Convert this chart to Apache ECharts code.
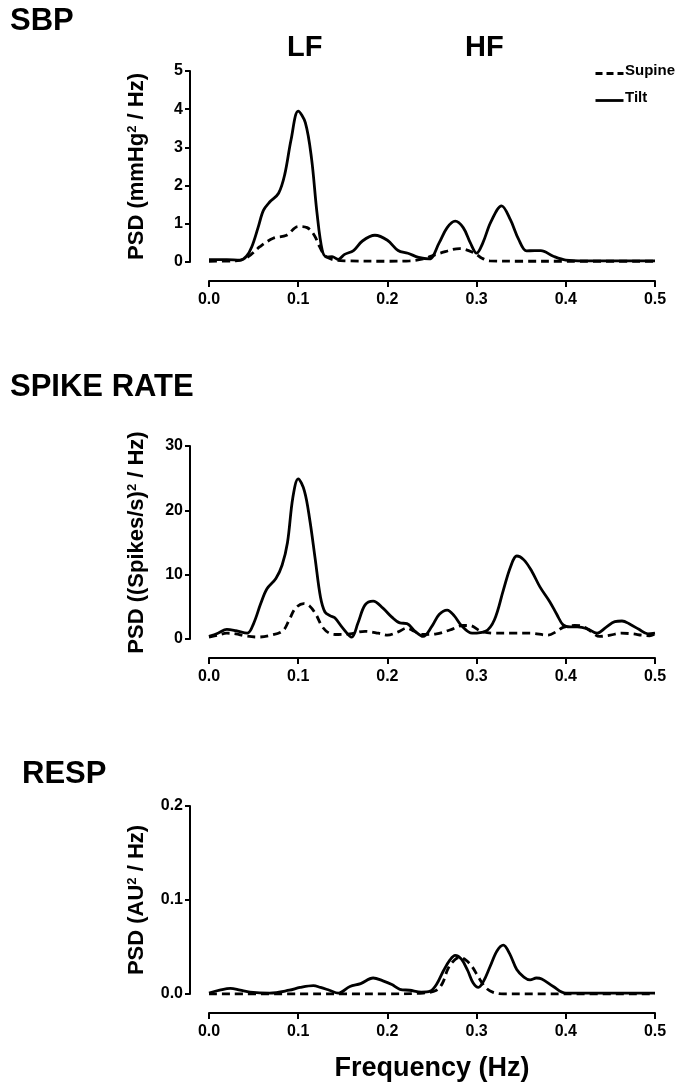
<!DOCTYPE html>
<html>
<head>
<meta charset="utf-8">
<title>Power spectral density: SBP, spike rate, respiration</title>
<script src="https://cdn.jsdelivr.net/npm/echarts@6/dist/echarts.min.js"></script>
<style>
  html, body { margin: 0; padding: 0; background: #fff; }
  #chart { width: 687px; height: 1086px; }
</style>
</head>
<body>
<div id="chart"></div>
<script>
// Frequency axis ticks (Hz)
const freqTicks = [0.0, 0.1, 0.2, 0.3, 0.4, 0.5];

// Series names
const seriesNames = ['Supine', 'Tilt'];

// Systolic blood pressure PSD, [frequency (Hz), mmHg^2/Hz]
const sbpSupine = [
  [0, 0.02], [0.03, 0.03], [0.043, 0.12], [0.057, 0.4], [0.072, 0.62], [0.087, 0.7],
  [0.1, 0.93], [0.11, 0.9], [0.118, 0.7], [0.124, 0.4], [0.13, 0.17], [0.139, 0.06],
  [0.155, 0.03], [0.2, 0.02], [0.225, 0.03], [0.24, 0.08], [0.259, 0.23], [0.281, 0.35],
  [0.297, 0.24], [0.306, 0.1], [0.315, 0.03], [0.35, 0.02], [0.4, 0.02], [0.5, 0.02]
];
const sbpTilt = [
  [0, 0.06], [0.02, 0.06], [0.035, 0.05], [0.042, 0.15], [0.048, 0.4], [0.055, 0.9],
  [0.061, 1.35], [0.068, 1.57], [0.078, 1.8], [0.085, 2.3], [0.092, 3.2], [0.1, 3.95],
  [0.108, 3.65], [0.115, 2.7], [0.121, 1.3], [0.127, 0.3], [0.132, 0.13], [0.138, 0.14],
  [0.145, 0.07], [0.152, 0.2], [0.162, 0.3], [0.172, 0.55], [0.186, 0.7], [0.2, 0.57],
  [0.212, 0.3], [0.223, 0.23], [0.235, 0.12], [0.247, 0.08], [0.258, 0.5], [0.267, 0.9],
  [0.276, 1.07], [0.285, 0.9], [0.293, 0.5], [0.3, 0.23], [0.307, 0.5], [0.316, 1.05],
  [0.328, 1.47], [0.338, 1.1], [0.347, 0.6], [0.356, 0.29], [0.365, 0.3], [0.372, 0.3],
  [0.386, 0.15], [0.4, 0.05], [0.42, 0.03], [0.45, 0.03], [0.5, 0.03]
];

// Muscle sympathetic spike rate PSD, [frequency (Hz), (spikes/s)^2/Hz]
const spikeSupine = [
  [0, 0.3], [0.01, 0.6], [0.02, 0.9], [0.03, 0.8], [0.04, 0.5], [0.055, 0.3], [0.07, 0.6],
  [0.083, 1.3], [0.09, 3], [0.097, 4.8], [0.106, 5.5], [0.113, 5.1], [0.12, 3.8],
  [0.127, 1.9], [0.135, 0.9], [0.145, 0.7], [0.158, 0.8], [0.175, 1.2], [0.19, 0.9],
  [0.2, 0.6], [0.212, 1.1], [0.222, 1.7], [0.23, 1.2], [0.24, 0.7], [0.255, 0.8],
  [0.27, 1.4], [0.285, 2.1], [0.292, 2.1], [0.305, 1.2], [0.32, 0.9], [0.34, 0.9],
  [0.36, 0.9], [0.38, 0.6], [0.39, 1.2], [0.397, 1.8], [0.41, 2.1], [0.418, 2],
  [0.426, 1.4], [0.438, 0.4], [0.45, 0.6], [0.462, 0.9], [0.475, 0.8], [0.485, 0.6],
  [0.494, 0.5], [0.5, 0.8]
];
const spikeTilt = [
  [0, 0.4], [0.01, 0.9], [0.02, 1.5], [0.03, 1.3], [0.043, 0.9], [0.05, 2.4], [0.058, 5.5],
  [0.065, 7.8], [0.075, 9.4], [0.082, 11.5], [0.088, 15], [0.094, 22], [0.1, 24.9],
  [0.107, 23], [0.113, 18.5], [0.119, 12.5], [0.125, 6.5], [0.13, 4.2], [0.136, 3.6],
  [0.141, 3.3], [0.15, 1.7], [0.16, 0.3], [0.167, 2.5], [0.175, 5.3], [0.184, 5.9],
  [0.195, 4.8], [0.205, 3.4], [0.214, 2.5], [0.222, 2.4], [0.231, 1.2], [0.24, 0.4],
  [0.25, 2], [0.258, 3.8], [0.267, 4.5], [0.275, 3.6], [0.283, 2.1], [0.295, 0.9],
  [0.31, 1.2], [0.32, 3], [0.33, 7.6], [0.338, 11.2], [0.345, 12.9], [0.353, 12.3],
  [0.362, 10.5], [0.371, 8.1], [0.382, 5.8], [0.39, 3.8], [0.397, 2.2], [0.405, 1.9],
  [0.413, 1.9], [0.424, 1.6], [0.435, 0.9], [0.445, 1.8], [0.455, 2.7], [0.463, 2.8],
  [0.472, 2.3], [0.482, 1.5], [0.492, 0.8], [0.5, 0.9]
];

// Respiration PSD, [frequency (Hz), AU^2/Hz]
const respSupine = [
  [0, 0], [0.1, 0], [0.2, 0], [0.24, 0.001], [0.255, 0.004], [0.262, 0.012], [0.268, 0.027],
  [0.275, 0.036], [0.281, 0.039], [0.288, 0.036], [0.295, 0.029], [0.302, 0.018],
  [0.31, 0.007], [0.318, 0.002], [0.33, 0], [0.4, 0], [0.5, 0]
];
const respTilt = [
  [0, 0.001], [0.012, 0.004], [0.024, 0.006], [0.035, 0.004], [0.046, 0.002], [0.068, 0.001],
  [0.09, 0.004], [0.102, 0.007], [0.117, 0.009], [0.125, 0.007], [0.135, 0.004],
  [0.145, 0.001], [0.158, 0.008], [0.17, 0.011], [0.184, 0.017], [0.195, 0.014],
  [0.205, 0.01], [0.214, 0.005], [0.225, 0.004], [0.238, 0.002], [0.248, 0.003],
  [0.255, 0.01], [0.263, 0.025], [0.27, 0.036], [0.276, 0.041], [0.283, 0.037],
  [0.29, 0.025], [0.296, 0.012], [0.302, 0.007], [0.308, 0.014], [0.315, 0.029],
  [0.323, 0.046], [0.33, 0.052], [0.337, 0.043], [0.345, 0.026], [0.353, 0.018],
  [0.36, 0.015], [0.367, 0.017], [0.373, 0.016], [0.386, 0.008], [0.4, 0.001],
  [0.45, 0.001], [0.5, 0.001]
];

// Y-axis tick values per panel
const sbpTicks = [0, 1, 2, 3, 4, 5];
const spikeTicks = [0, 10, 20, 30];
const respTicks = [0.0, 0.1, 0.2];

const FONT = '"Liberation Sans", Arial, Helvetica, sans-serif';
const INK = '#000';
const LINE_W = 2.8;
const DASH = [8, 5];

const panels = [
  { title: 'SBP', yName: 'PSD (mmHg{sup|2} / Hz)', ticks: sbpTicks, digits: 0,
    supine: sbpSupine, tilt: sbpTilt, top: 71, height: 191 },
  { title: 'SPIKE RATE', yName: 'PSD ((Spikes/s){sup|2} / Hz)', ticks: spikeTicks, digits: 0,
    supine: spikeSupine, tilt: spikeTilt, top: 446, height: 193 },
  { title: 'RESP', yName: 'PSD (AU{sup|2} / Hz)', ticks: respTicks, digits: 1,
    supine: respSupine, tilt: respTilt, top: 806, height: 188 }
];

const grids = [], xAxes = [], yAxes = [], series = [];

panels.forEach((p, i) => {
  grids.push({ left: 209, width: 446, top: p.top, height: p.height });

  xAxes.push({
    gridIndex: i, type: 'value',
    min: freqTicks[0], max: freqTicks[freqTicks.length - 1],
    interval: freqTicks[1] - freqTicks[0],
    offset: 19,
    name: i === panels.length - 1 ? 'Frequency (Hz)' : '',
    nameLocation: 'middle', nameGap: 42,
    nameTextStyle: { fontFamily: FONT, fontWeight: 'bold', fontSize: 27, color: INK },
    axisLine: { show: true, onZero: false, lineStyle: { color: INK, width: 2 } },
    axisTick: { show: true, length: 6, lineStyle: { color: INK, width: 2 } },
    axisLabel: { color: INK, fontFamily: FONT, fontWeight: 'bold', fontSize: 16, margin: 11,
      formatter: v => v.toFixed(1) },
    splitLine: { show: false }
  });

  yAxes.push({
    gridIndex: i, type: 'value',
    min: p.ticks[0], max: p.ticks[p.ticks.length - 1],
    interval: p.ticks[1] - p.ticks[0],
    offset: 19,
    name: p.yName, nameLocation: 'middle', nameGap: 42, nameRotate: 90,
    nameTextStyle: { fontFamily: FONT, fontWeight: 'bold', fontSize: 22, color: INK,
      rich: { sup: { fontFamily: FONT, fontWeight: 'bold', fontSize: 13, color: INK,
        verticalAlign: 'top', padding: [0, 0, 9, 0] } } },
    axisLine: { show: true, onZero: false, lineStyle: { color: INK, width: 2 } },
    axisTick: { show: true, length: 5, lineStyle: { color: INK, width: 2 } },
    axisLabel: { color: INK, fontFamily: FONT, fontWeight: 'bold', fontSize: 16, margin: 7,
      formatter: v => v.toFixed(p.digits) },
    splitLine: { show: false }
  });

  [['supine', DASH], ['tilt', 'solid']].forEach(([key, dash], k) => {
    series.push({
      name: seriesNames[k], type: 'line', xAxisIndex: i, yAxisIndex: i,
      data: p[key], smooth: 0.35, symbol: 'none', animation: false,
      lineStyle: { color: INK, width: LINE_W, type: dash, cap: 'butt' },
      itemStyle: { color: INK }
    });
  });
});

const titles = [
  { text: 'SBP', left: 10, top: 6 },
  { text: 'SPIKE RATE', left: 10, top: 372 },
  { text: 'RESP', left: 22, top: 759 },
  { text: 'LF', left: 287, top: 33, size: 29 },
  { text: 'HF', left: 465, top: 33, size: 29 }
].map(t => ({
  text: t.text, left: t.left, top: t.top, padding: 0,
  textStyle: { fontFamily: FONT, fontWeight: 'bold', fontSize: t.size || 31, color: INK }
}));

// Key: line sample followed by the series name
const keyRows = seriesNames.map((name, k) => {
  const y = 72 + k * 27;
  return [
    { type: 'line', left: 593, top: y - 1,
      shape: { x1: 0, y1: 0, x2: 28, y2: 0 },
      style: { stroke: INK, lineWidth: LINE_W, lineDash: k === 0 ? [7, 4] : null } },
    { type: 'text', left: 625, top: y - 9,
      style: { text: name, fill: INK, font: 'bold 15px ' + FONT } }
  ];
}).flat();

const chart = echarts.init(document.getElementById('chart'), null, { renderer: 'canvas' });
chart.setOption({
  backgroundColor: '#fff',
  animation: false,
  title: titles,
  graphic: keyRows,
  grid: grids,
  xAxis: xAxes,
  yAxis: yAxes,
  series: series
});
</script>
</body>
</html>
